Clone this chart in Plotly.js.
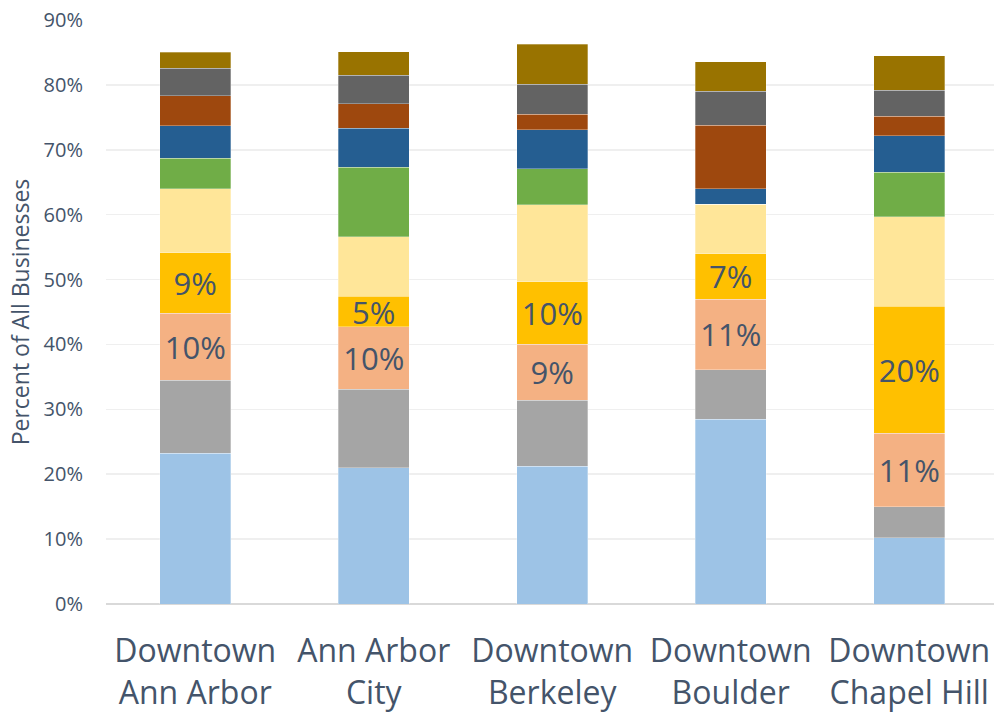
<!DOCTYPE html>
<html>
<head>
<meta charset="utf-8">
<script src="https://cdn.plot.ly/plotly-3.0.1.min.js"></script>
<style>html,body{margin:0;padding:0;background:#fff;}#chart{width:994px;height:714px;}</style>
</head>
<body>
<div id="chart"></div>
<script>
const categories = ["Downtown<br>Ann Arbor", "Ann Arbor<br>City", "Downtown<br>Berkeley", "Downtown<br>Boulder", "Downtown<br>Chapel Hill"];
const seriesNames = ["Series 1", "Series 2", "Series 3", "Series 4", "Series 5", "Series 6", "Series 7", "Series 8", "Series 9", "Series 10"];
const series1 = [23.2, 21.0, 21.2, 28.5, 10.2];
const series2 = [11.3, 12.1, 10.2, 7.6, 4.8];
const series3 = [10.3, 9.6, 8.6, 10.9, 11.3];
const series4 = [9.3, 4.7, 9.7, 7.0, 19.6];
const series5 = [9.9, 9.2, 11.8, 7.6, 13.8];
const series6 = [4.7, 10.7, 5.6, 0, 6.8];
const series7 = [5.0, 6.0, 6.0, 2.4, 5.7];
const series8 = [4.6, 3.8, 2.4, 9.8, 3.0];
const series9 = [4.3, 4.4, 4.6, 5.2, 4.0];
const series10 = [2.4, 3.6, 6.2, 4.6, 5.3];
const yTicks = [0, 10, 20, 30, 40, 50, 60, 70, 80, 90];

const allSeries = [series1, series2, series3, series4, series5, series6, series7, series8, series9, series10];
const colors = ["#9DC3E6", "#A5A5A5", "#F4B183", "#FFC000", "#FFE699", "#70AD47", "#255E91", "#9E480E", "#636363", "#997300"];
const labelled = [false, false, true, true, false, false, false, false, false, false];

const traces = allSeries.map((vals, i) => {
  const t = {
    type: "bar",
    name: seriesNames[i],
    x: categories,
    y: vals,
    width: 0.4,
    marker: {color: colors[i], line: {color: "rgba(255,255,255,0.5)", width: 0.6}},
    hoverinfo: "none"
  };
  if (labelled[i]) {
    t.texttemplate = "%{y:.0f}%";
    t.textposition = "inside";
    t.insidetextanchor = "middle";
    t.constraintext = "none";
    t.textangle = 0;
    t.textfont = {family: "Open Sans, sans-serif", size: 31, color: "#44546A"};
  } else {
    t.textposition = "none";
  }
  return t;
});

const layout = {
  width: 994, height: 714,
  barmode: "stack",
  showlegend: false,
  paper_bgcolor: "#ffffff",
  plot_bgcolor: "#ffffff",
  margin: {l: 106, r: 0, t: 20, b: 110},
  font: {family: "Open Sans, sans-serif", color: "#44546A"},
  xaxis: {
    type: "category",
    range: [-0.5, 4.475],
    showgrid: false,
    zeroline: false,
    showline: false,
    ticks: "",
    ticklabelstandoff: 25,
    tickfont: {family: "Open Sans, sans-serif", size: 32, color: "#44546A"},
    fixedrange: true
  },
  yaxis: {
    range: [0, 90],
    tickvals: yTicks,
    ticktext: yTicks.map(v => v + "%"),
    showgrid: true,
    gridcolor: "#EFEFEF",
    gridwidth: 1.5,
    zeroline: true,
    zerolinecolor: "#D9D9D9",
    zerolinewidth: 1.5,
    showline: false,
    ticks: "",
    ticklabelstandoff: 22,
    tickfont: {family: "Open Sans, sans-serif", size: 20, color: "#44546A"},
    title: {text: "Percent of All Businesses", font: {family: "Open Sans, sans-serif", size: 23, color: "#44546A"}, standoff: 7},
    fixedrange: true
  }
};

Plotly.newPlot("chart", traces, layout, {displayModeBar: false, staticPlot: true});
</script>
</body>
</html>
